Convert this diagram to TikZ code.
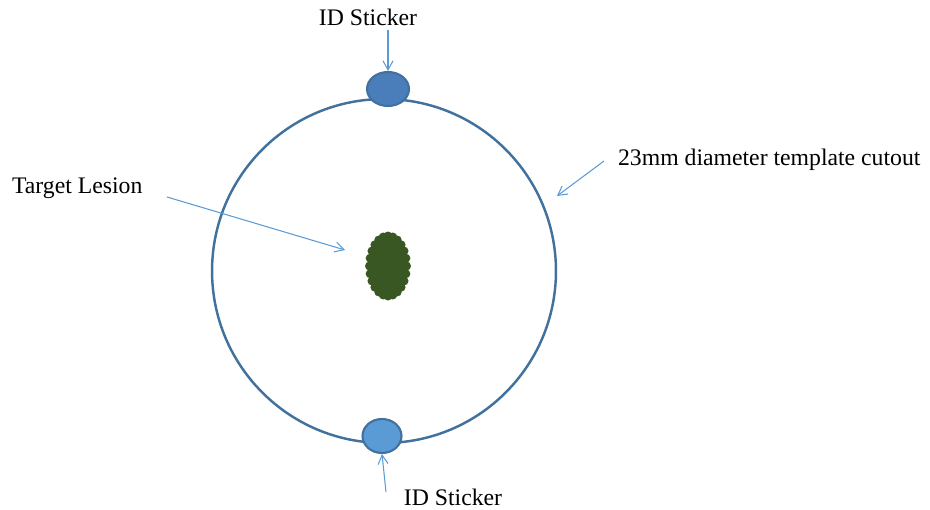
\documentclass[tikz,border=0pt]{standalone}
\usepackage{fontspec}
\setmainfont{Liberation Serif}
\usetikzlibrary{arrows.meta,shapes.geometric,calc}
\definecolor{rim}{HTML}{41719C}
\definecolor{pale}{HTML}{5B9BD5}
\definecolor{deep}{HTML}{4A7EBB}
\definecolor{leaf}{HTML}{385723}
\tikzset{
  >={Straight Barb[length=1.8mm,width=2mm]},
  lbl/.style={font=\fontsize{13.5}{16}\selectfont,inner sep=1pt},
  arr/.style={->,draw=pale,line width=0.6pt},
  stk/.style={ellipse,draw=rim,line width=1.2pt,inner sep=0pt},
}

\begin{document}
\begin{tikzpicture}[x=0.02cm,y=-0.02cm]
\useasboundingbox (0,0) rectangle (930,510);
\node[circle,draw=rim,line width=1.4pt,minimum size=6.88cm] (cut) at (384,271){};
\node[stk,fill=deep,minimum width=0.84cm,minimum height=0.68cm] (topstk) at (388,89){};
\node[stk,fill=pale,minimum width=0.78cm,minimum height=0.68cm] (botstk) at (382,436){};
% lesion
\node[ellipse,fill=leaf,minimum width=0.76cm,minimum height=1.24cm,inner sep=0pt] (les) at (388,266){};
\foreach \a in {0,15,...,359}
  \fill[leaf] ($(les.center)+({18.5*cos(\a)},{30*sin(\a)})$) circle (0.09cm);
% labels
\node[lbl] (toplbl) at (368,17){ID Sticker};
\node[lbl] (botlbl) at (453,497){ID Sticker};
\node[lbl,anchor=west] (cutlbl) at (616,160){23mm diameter template cutout};
\node[lbl,anchor=west] (leslbl) at (10,188){Target Lesion};
\coordinate (t0) at (388,30);
\coordinate (b0) at (386,492);
\coordinate (c0) at (604,161);
\coordinate (c1) at (557,196);
\coordinate (l0) at (167,197);
\coordinate (l1) at (345,250);
\draw[arr] (t0) -- (topstk.north);
\draw[arr] (b0) -- (botstk.south);
\draw[arr] (c0) -- (c1);
\draw[arr] (l0) -- (l1);
\end{tikzpicture}
\end{document}
